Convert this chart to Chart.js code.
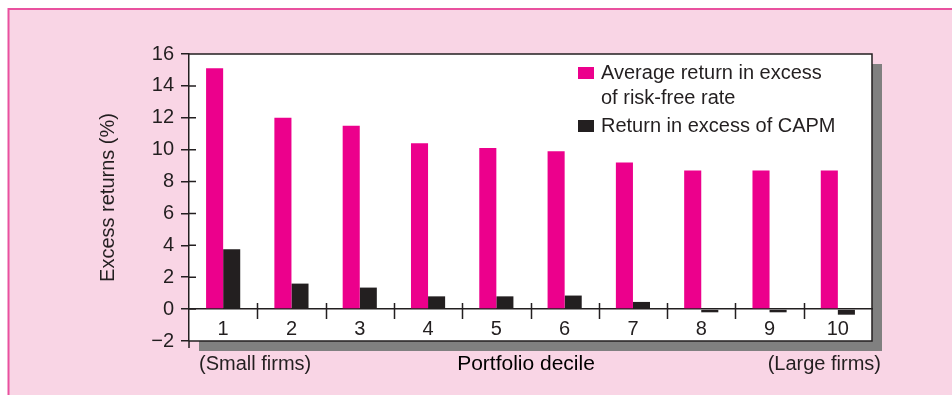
<!DOCTYPE html>
<html>
<head>
<meta charset="utf-8">
<script src="https://cdn.jsdelivr.net/npm/chart.js@4.4.0/dist/chart.umd.min.js"></script>
<style>
  html, body { margin: 0; padding: 0; background: #fff; }
</style>
</head>
<body>
<canvas id="chart" width="952" height="395"></canvas>
<script>
const deciles = ['1', '2', '3', '4', '5', '6', '7', '8', '9', '10'];
const avgExcess = [15.1, 12.0, 11.5, 10.4, 10.1, 9.9, 9.2, 8.7, 8.7, 8.7];
const capmExcess = [3.75, 1.6, 1.35, 0.8, 0.8, 0.85, 0.45, -0.2, -0.2, -0.35];
const yTicks = [-2, 0, 2, 4, 6, 8, 10, 12, 14, 16];
const seriesNames = [['Average return in excess', 'of risk-free rate'], 'Return in excess of CAPM'];
const sideNotes = ['(Small firms)', 'Portfolio decile', '(Large firms)'];

const INK = '#231f20';
const MAGENTA = '#ec008c';
const PINK_BG = '#f9d5e5';
const FONT = '"Liberation Sans", Arial, sans-serif';

const framePlugin = {
  id: 'frame',
  beforeDraw(chart) {
    const { ctx, chartArea: a, width, height } = chart;
    ctx.save();
    ctx.fillStyle = '#fff';
    ctx.fillRect(0, 0, width, height);
    ctx.fillStyle = PINK_BG;
    ctx.fillRect(8, 8, width - 8, height - 8);
    ctx.strokeStyle = '#e9519f';
    ctx.lineWidth = 2;
    ctx.beginPath();
    ctx.moveTo(8.5, height);
    ctx.lineTo(8.5, 9);
    ctx.lineTo(width, 9);
    ctx.stroke();
    // drop shadow + white plot box
    ctx.fillStyle = '#808080';
    ctx.fillRect(a.left + 10, a.top + 10, a.width, a.height);
    ctx.fillStyle = '#fff';
    ctx.fillRect(a.left, a.top, a.width, a.height);
    ctx.restore();
  },
  afterDraw(chart) {
    const { ctx, chartArea: a } = chart;
    const xs = chart.scales.x;
    const ys = chart.scales.y;
    const y0 = ys.getPixelForValue(0);
    ctx.save();
    ctx.strokeStyle = INK;
    ctx.lineWidth = 1.5;
    ctx.beginPath();
    ctx.moveTo(a.left, a.top);
    ctx.lineTo(a.right, a.top);
    ctx.lineTo(a.right, a.bottom);
    ctx.lineTo(a.left, a.bottom);
    ctx.moveTo(a.left, a.bottom);
    ctx.lineTo(a.left, a.bottom + 7);
    // y ticks poke a little into the plot
    yTicks.forEach(v => {
      const y = ys.getPixelForValue(v);
      ctx.moveTo(a.left, y);
      ctx.lineTo(a.left + 7, y);
    });
    // tick marks between deciles, crossing the zero line
    const step = xs.getPixelForValue(1) - xs.getPixelForValue(0);
    for (let i = 1; i < deciles.length; i++) {
      const x = Math.round(xs.getPixelForValue(i) - step / 2) + 0.5;
      ctx.moveTo(x, y0 - 6);
      ctx.lineTo(x, y0 + 10);
    }
    ctx.stroke();

    // legend
    ctx.font = '20px ' + FONT;
    ctx.fillStyle = INK;
    ctx.textBaseline = 'middle';
    ctx.textAlign = 'left';
    let ly = 73;
    chart.data.datasets.forEach(ds => {
      const lines = Array.isArray(ds.label) ? ds.label : [ds.label];
      ctx.fillStyle = ds.backgroundColor;
      ctx.fillRect(578, ly - 6, 16, 12);
      ctx.fillStyle = INK;
      lines.forEach((t, k) => ctx.fillText(t, 601, ly + k * 25));
      ly += lines.length * 25 + 3;
    });

    // notes under the plot
    ctx.fillText(sideNotes[0], a.left + 10, 364);
    ctx.textAlign = 'right';
    ctx.fillText(sideNotes[2], a.right + 9, 364);
    ctx.textAlign = 'center';
    ctx.fillStyle = '#000';
    ctx.font = '21px ' + FONT;
    ctx.fillText(sideNotes[1], 526, 364);
    ctx.restore();
  }
};

new Chart(document.getElementById('chart').getContext('2d'), {
  type: 'bar',
  data: {
    labels: deciles,
    datasets: [
      { label: seriesNames[0], data: avgExcess, backgroundColor: MAGENTA },
      { label: seriesNames[1], data: capmExcess, backgroundColor: INK }
    ]
  },
  options: {
    responsive: false,
    animation: false,
    devicePixelRatio: 1,
    layout: { padding: { left: 0, top: 54, right: 80, bottom: 54 } },
    datasets: { bar: { categoryPercentage: 0.5, barPercentage: 1.0 } },
    plugins: { legend: { display: false }, tooltip: { enabled: false } },
    scales: {
      x: {
        position: { y: 0 },
        z: 1,
        offset: true,
        ticks: { color: INK, font: { family: FONT, size: 20 }, padding: 8, maxRotation: 0 },
        grid: { display: false, drawTicks: false },
        border: { color: INK, width: 1.5 }
      },
      y: {
        min: -2,
        max: 16,
        afterBuildTicks: s => { s.ticks = yTicks.map(v => ({ value: v })); },
        afterFit: s => { s.width = 189; },
        ticks: {
          color: INK, font: { family: FONT, size: 20 }, padding: 7,
          callback: v => (v < 0 ? '\u2212' + Math.abs(v) : String(v))
        },
        grid: { drawOnChartArea: false, drawTicks: true, tickLength: 8, color: INK, lineWidth: 1.5 },
        border: { color: INK, width: 1.5 },
        title: {
          display: true, text: 'Excess returns (%)', color: INK,
          font: { family: FONT, size: 20 }, padding: { top: 96, bottom: 0 }
        }
      }
    }
  },
  plugins: [framePlugin]
});
</script>
</body>
</html>
